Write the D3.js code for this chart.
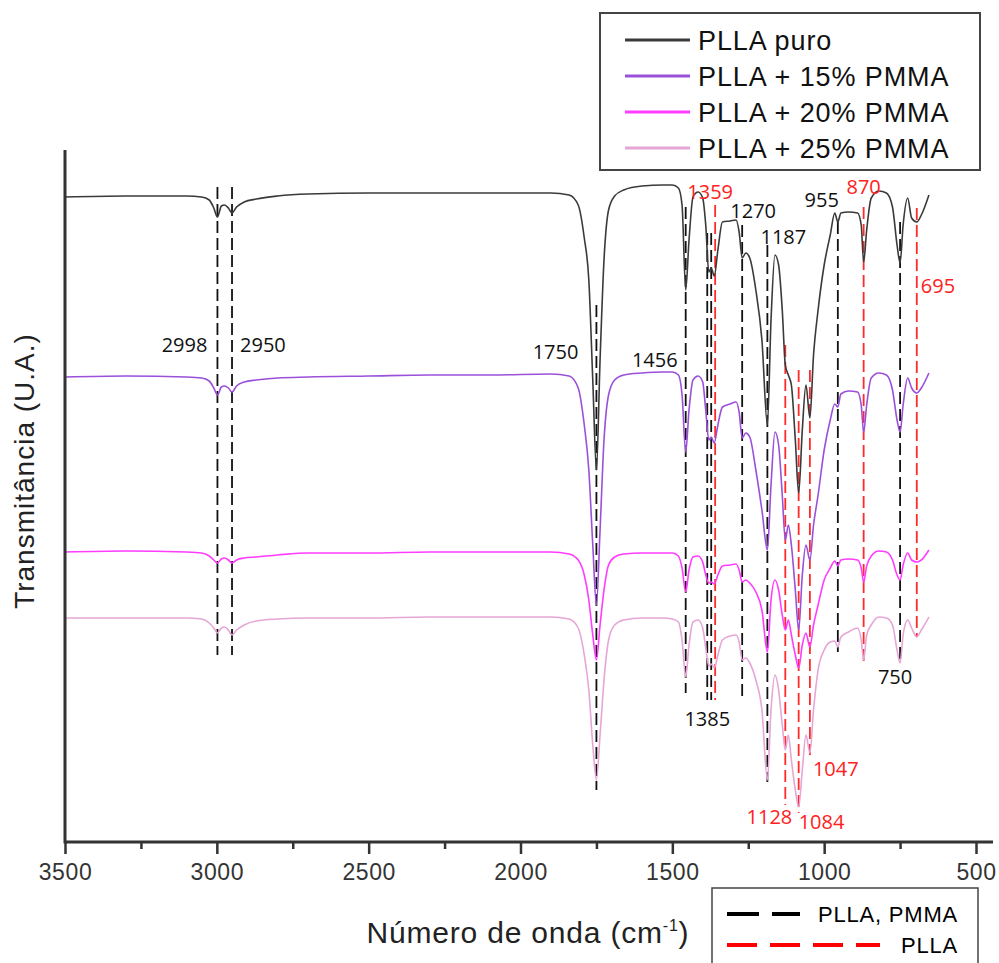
<!DOCTYPE html>
<html lang="pt">
<head>
<meta charset="UTF-8">
<title>FTIR PLLA / PMMA</title>
<script src="https://cdn.jsdelivr.net/npm/d3@7/dist/d3.min.js"></script>
<style>
  body { margin: 0; background: #fff; overflow: hidden; }
  svg { display: block; }
</style>
</head>
<body>
<div id="root"></div>
<script>
// wavenumbers (cm-1) shared by every spectrum
const wavenumbers = [3500,3300,3100,3050,3025,3010,2998,2985,2975,2962,2950,2935,2910,2870,2800,2700,2500,2300,2100,1900,
  1840,1810,1790,1775,1762,1750,1738,1725,1710,1690,1660,1600,1530,1500,1480,1468,1456,1445,1432,1415,
  1400,1390,1380,1372,1362,1350,1335,1310,1290,1280,1270,1258,1245,1225,1205,1187,1175,1162,1150,1138,
  1128,1118,1108,1095,1084,1072,1060,1047,1035,1020,1000,980,965,955,945,920,890,878,870,860,
  845,820,795,775,760,750,740,725,712,695,680,655]

// transmittance (U.A., stacked)
const plla_puro = [645,646,646,645,642,634,625,636,637,634,629,635,640,643,646,648,649,649,649,649,
  647,637,604,562,462,372,482,582,632,646,652,656,657,657,654,637,552,602,645,650,
  644,617,570,574,566,592,620,621,622,610,584,589,584,552,502,417,522,587,577,532,
  477,467,457,402,349,412,457,424,487,532,577,607,629,620,629,630,629,617,580,612,
  644,651,649,635,597,579,617,644,624,620,627,647]
const pmma15 = [465,466,465,464,461,454,447,455,456,454,450,456,460,462,464,465,466,467,467,468,
  466,454,417,372,297,237,312,402,447,462,467,469,470,470,467,447,390,432,462,466,
  460,432,402,405,399,417,435,438,440,430,404,409,405,372,332,292,357,410,397,347,
  302,317,297,252,212,267,297,282,317,347,392,422,438,435,448,451,450,437,410,437,
  464,469,467,452,422,410,437,464,454,449,454,469]
const pmma20 = [290,291,290,289,286,282,279,283,284,282,279,282,284,285,287,289,289,290,290,290,
  288,282,267,242,207,182,217,252,277,285,288,289,289,289,286,274,250,272,285,286,
  280,267,259,260,258,267,276,277,278,272,260,262,259,250,232,190,242,262,252,227,
  212,222,207,187,174,197,209,195,217,237,262,274,281,276,282,283,282,274,260,276,
  286,291,290,282,267,262,277,289,282,280,282,292]
const pmma25 = [224,224,224,223,219,214,209,214,215,212,207,212,217,221,223,224,224,225,225,225,
  223,214,187,152,97,62,107,162,202,217,222,224,224,223,220,202,165,197,220,222,
  214,194,176,178,174,187,202,206,207,200,182,184,179,162,132,62,132,167,152,117,
  92,107,82,52,35,72,107,89,132,172,192,200,201,195,205,210,214,202,182,207,
  217,225,224,217,192,179,207,222,214,205,212,225]

const seriesNames = ['PLLA puro', 'PLLA + 15% PMMA', 'PLLA + 20% PMMA', 'PLLA + 25% PMMA']
const seriesValues = [plla_puro, pmma15, pmma20, pmma25]
const seriesColors = ['#3a3a3a', '#9b50da', '#ff3cff', '#e6a6d6']

// marked bands: wavenumber, top and bottom of dashed guide (U.A.), kind
const bandWn = [2998, 2950, 1750, 1456, 1385, 1372, 1359, 1270, 1187, 1128, 1084, 1047, 955, 870, 750, 695]
const bandTop = [655, 655, 537, 635, 609, 609, 637, 617, 597, 497, 472, 472, 620, 635, 620, 634]
const bandBottom = [187, 187, 52, 149, 142, 142, 142, 142, 60, 37, 29, 87, 190, 179, 179, 205]
const bandKind = ['pm', 'pm', 'pm', 'pm', 'pm', 'pm', 'plla', 'pm', 'pm', 'plla', 'plla', 'plla', 'pm', 'plla', 'pm', 'plla']

// band labels
const labelText = ['2998', '2950', '1750', '1456', '1359', '1270', '1187', '955', '870', '695', '1385', '750', '1047', '1128', '1084']
const labelWn = [2998, 2950, 1750, 1456, 1359, 1270, 1187, 955, 870, 695, 1385, 750, 1047, 1128, 1084]
const labelY = [497, 497, 490, 482, 650, 631, 605, 642, 655, 556, 123, 165, 73, 25, 20]
const labelKind = ['pm', 'pm', 'pm', 'pm', 'plla', 'pm', 'pm', 'pm', 'plla', 'plla', 'pm', 'pm', 'plla', 'plla', 'plla']
const labelDx = [-10, 8, -18, -8, -5, 11, 16, 1, 0, 4, 0, -5, 3, 7, 0]
const labelAnchor = ['end', 'start', 'end', 'end', 'middle', 'middle', 'middle', 'end', 'middle', 'start', 'middle', 'middle', 'start', 'end', 'start']

const xTicks = [3500, 3000, 2500, 2000, 1500, 1000, 500]
const xMinor = [3250, 2750, 2250, 1750, 1250, 750]

const W = 999, H = 963
const plot = { left: 65, right: 993, top: 150, bottom: 842 }
const kindColor = { pm: '#111', plla: '#ff2a2a' }
const arial = "'Liberation Sans', Arial, sans-serif"

const svg = d3.select('#root').append('svg')
  .attr('width', W)
  .attr('height', H)

const x = d3.scaleLinear().domain([3500, 500]).range([65, 976])
const y = d3.scaleLinear().domain([0, 692]).range([plot.bottom, plot.top])

// dashed band guides (behind spectra)
svg.append('g').selectAll('line')
  .data(bandWn)
  .join('line')
  .attr('x1', d => x(d))
  .attr('x2', d => x(d))
  .attr('y1', (d, i) => y(bandTop[i]))
  .attr('y2', (d, i) => y(bandBottom[i]))
  .attr('stroke', (d, i) => kindColor[bandKind[i]])
  .attr('stroke-width', 1.8)
  .attr('stroke-dasharray', '12,5')

// spectra
const line = d3.line()
  .x(d => x(d.w))
  .y(d => y(d.t))
  .curve(d3.curveMonotoneX)

seriesValues.forEach((vals, s) => {
  const pts = wavenumbers.map((w, i) => ({ w: w, t: vals[i] }))
  svg.append('path')
    .datum(pts)
    .attr('fill', 'none')
    .attr('stroke', seriesColors[s])
    .attr('stroke-width', 1.6)
    .attr('d', line)
})

// band labels
svg.append('g').selectAll('text')
  .data(labelText)
  .join('text')
  .attr('x', (d, i) => x(labelWn[i]) + labelDx[i])
  .attr('y', (d, i) => y(labelY[i]))
  .attr('dy', '0.35em')
  .attr('text-anchor', (d, i) => labelAnchor[i])
  .attr('fill', (d, i) => labelKind[i] === 'plla' ? '#ff2020' : '#111')
  .style('font-family', "'Open Sans', sans-serif")
  .style('font-size', '20px')
  .text(d => d)

// axes
const axisColor = '#333'
const xAxis = svg.append('g')
  .attr('transform', `translate(0,${plot.bottom})`)
  .call(d3.axisBottom(x).tickValues(xTicks).tickFormat(d3.format('d'))
    .tickSize(12).tickSizeOuter(0).tickPadding(10))
xAxis.select('.domain').remove()
xAxis.selectAll('.tick line').attr('stroke', axisColor).attr('stroke-width', 2.5)
xAxis.selectAll('.tick text')
  .attr('fill', axisColor)
  .style('font-family', arial)
  .style('font-size', '23px')
  .style('letter-spacing', '0.6px')

const xMinorAxis = svg.append('g')
  .attr('transform', `translate(0,${plot.bottom})`)
  .call(d3.axisBottom(x).tickValues(xMinor).tickSize(7).tickFormat(''))
xMinorAxis.select('.domain').remove()
xMinorAxis.selectAll('.tick line').attr('stroke', axisColor).attr('stroke-width', 2.5)

svg.append('line')
  .attr('x1', plot.left).attr('x2', plot.right)
  .attr('y1', plot.bottom).attr('y2', plot.bottom)
  .attr('stroke', axisColor).attr('stroke-width', 3)
svg.append('line')
  .attr('x1', plot.left).attr('x2', plot.left)
  .attr('y1', plot.top).attr('y2', plot.bottom + 1.5)
  .attr('stroke', axisColor).attr('stroke-width', 3)

// axis titles
const xTitle = svg.append('text')
  .attr('x', 528)
  .attr('y', 943)
  .attr('text-anchor', 'middle')
  .attr('fill', '#222')
  .style('font-family', arial)
  .style('font-size', '30px')
  .style('letter-spacing', '0.8px')
xTitle.append('tspan').text('Número de onda (cm')
xTitle.append('tspan').attr('dy', -12).style('font-size', '16px').text('-1')
xTitle.append('tspan').attr('dy', 12).text(')')

svg.append('text')
  .attr('transform', 'translate(34,471) rotate(-90)')
  .attr('text-anchor', 'middle')
  .attr('fill', '#222')
  .style('font-family', arial)
  .style('font-size', '28px')
  .style('letter-spacing', '1px')
  .text('Transmitância (U.A.)')

// series legend
const legend = svg.append('g')
legend.append('rect')
  .attr('x', 600).attr('y', 13)
  .attr('width', 380).attr('height', 157)
  .attr('fill', '#fff')
  .attr('stroke', '#444')
  .attr('stroke-width', 2)
seriesNames.forEach((name, i) => {
  const ly = 40 + i * 36
  legend.append('line')
    .attr('x1', 625).attr('x2', 690)
    .attr('y1', ly).attr('y2', ly)
    .attr('stroke', seriesColors[i])
    .attr('stroke-width', 3)
  legend.append('text')
    .attr('x', 698).attr('y', ly)
    .attr('dy', '0.36em')
    .attr('fill', '#111')
    .style('font-family', arial)
    .style('font-size', '27px')
    .style('letter-spacing', '0.9px')
    .text(name)
})

// band-kind legend
const kindNames = ['PLLA, PMMA', 'PLLA']
const kindLen = [73, 153]
const kindDash = ['32,13', '30,13']
const legend2 = svg.append('g')
legend2.append('rect')
  .attr('x', 712).attr('y', 888)
  .attr('width', 266).attr('height', 90)
  .attr('fill', '#fff')
  .attr('stroke', '#444')
  .attr('stroke-width', 1.5)
kindNames.forEach((name, i) => {
  const ly = 914 + i * 31
  legend2.append('line')
    .attr('x1', 727).attr('x2', 727 + kindLen[i])
    .attr('y1', ly).attr('y2', ly)
    .attr('stroke', i === 0 ? '#000' : '#ff0000')
    .attr('stroke-width', 4)
    .attr('stroke-dasharray', kindDash[i])
  legend2.append('text')
    .attr('x', 958).attr('y', ly)
    .attr('dy', '0.36em')
    .attr('text-anchor', 'end')
    .attr('fill', '#000')
    .style('font-family', arial)
    .style('font-size', '22px')
    .style('letter-spacing', '0.8px')
    .text(name)
})
</script>
</body>
</html>
